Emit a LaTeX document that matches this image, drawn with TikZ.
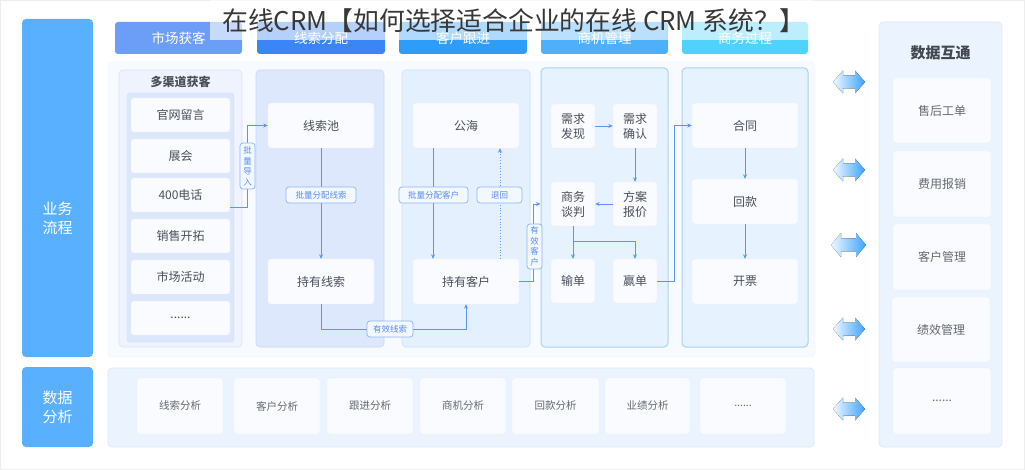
\documentclass[tikz,border=0pt]{standalone}
\usepackage{fontspec}
\setmainfont{Noto Sans CJK SC}
\usetikzlibrary{arrows.meta,calc}
\definecolor{sidebl}{HTML}{58B0FE}
\definecolor{hA}{HTML}{6C9EF8}
\definecolor{hB}{HTML}{3B86F6}
\definecolor{hC}{HTML}{2E9DFA}
\definecolor{hD}{HTML}{4EB0FB}
\definecolor{hE}{HTML}{4FD3FC}
\definecolor{itemfill}{HTML}{F9FBFF}
\definecolor{itemborder}{HTML}{EAF0FB}
\definecolor{txt}{HTML}{4A4F58}
\definecolor{linec}{HTML}{5E93F6}
\definecolor{lblborder}{HTML}{8DB3F7}
\definecolor{lblfill}{HTML}{F3F8FF}
\definecolor{lbltext}{HTML}{5A8DEE}
\definecolor{arrR}{HTML}{3CA3FE}
\definecolor{arrL}{HTML}{F0F8FF}
\definecolor{mainbg}{HTML}{F7FAFE}
\definecolor{mainbd}{HTML}{EEF3FC}
\definecolor{cA}{HTML}{EEF3FE}
\definecolor{cAb}{HTML}{D9E5FC}
\definecolor{inA}{HTML}{DCE7FC}
\definecolor{inAb}{HTML}{CCDCFA}
\definecolor{cB}{HTML}{DDE8FC}
\definecolor{cBb}{HTML}{C7D9F9}
\definecolor{cC}{HTML}{E5F0FE}
\definecolor{cCb}{HTML}{CCE0FB}
\definecolor{cD}{HTML}{E6F2FE}
\definecolor{cDb}{HTML}{A8D1FB}
\definecolor{pan}{HTML}{EBF4FE}
\definecolor{panb}{HTML}{DAE9FC}
\newcommand\bx[7]{\node[#1, minimum width={#5-#3}, minimum height={#6-#4}] (#2) at ({(#3+#5)/2},{(#4+#6)/2}) {#7};}
\newcommand\dar[5]{% x0 x1 cy hh sh
  \fill[left color=arrL, right color=arrR]
    (#1,#3) -- ({#1+10},{#3-#4}) -- ({#1+10},{#3-#5}) -- ({#2-10},{#3-#5}) -- ({#2-10},{#3-#4})
    -- (#2,#3) -- ({#2-10},{#3+#4}) -- ({#2-10},{#3+#5}) -- ({#1+10},{#3+#5}) -- ({#1+10},{#3+#4}) -- cycle;}
\begin{document}
\begin{tikzpicture}[x=1pt,y=-1pt,
  side/.style={fill=sidebl, rounded corners=4pt, text=white, align=center, inner sep=0pt,
    font=\fontsize{15}{19}\selectfont},
  hdr/.style={rounded corners=3pt, text=white, inner sep=0pt, font=\fontsize{13.5}{16}\selectfont},
  panel/.style={rounded corners=4pt, inner sep=0pt},
  item/.style={draw=itemborder, fill=itemfill, rounded corners=3pt, text=txt, align=center,
    inner sep=0pt, font=\fontsize{12}{15}\selectfont},
  small/.style={item, font=\fontsize{10.5}{13}\selectfont, text=txt!85},
  lbl/.style={draw=lblborder, fill=lblfill, rounded corners=3pt, text=lbltext, inner sep=0pt,
    line width=0.7pt, font=\fontsize{8.5}{10}\selectfont, align=center},
  conn/.style={draw=linec, line width=0.8pt, -{Stealth[length=4.5pt,width=4pt]}},
]
\useasboundingbox (0,0) rectangle (1025,470);
\draw[draw=black!7, fill=white] (0.5,0.5) rectangle (1024.5,469.5);

% side labels
\bx{side}{bizflow}{22}{19}{93}{357}{}
\node[text=white, align=center, font=\fontsize{15}{19}\selectfont, inner sep=0pt] (bizflowtxt) at (57.5,218) {业务\\流程};
\bx{side}{dataana}{22}{367}{93}{447}{数据\\分析}

% headers
\bx{hdr, fill=hA}{h1}{115}{22}{242}{54}{市场获客}
\bx{hdr, fill=hB}{h2}{257}{22}{385}{54}{线索分配}
\bx{hdr, fill=hC}{h3}{399}{22}{527}{54}{客户跟进}
\bx{hdr, fill=hD}{h4}{541}{22}{668}{54}{商机管理}
\bx{hdr, fill=hE}{h5}{682}{22}{808}{54}{商务过程}

% main backdrop
\bx{panel, fill=mainbg, draw=mainbd}{mainbg}{108}{62}{815}{357}{}

% column 1
\bx{panel, fill=cA, draw=cAb, line width=0.7pt}{col1}{119}{70}{242}{347}{}
\node[text=txt, font=\bfseries\fontsize{12}{14}\selectfont] (t1) at (180.5,82) {多渠道获客};
\bx{panel, rounded corners=3pt, fill=inA, draw=inAb}{inner1}{127}{93}{234}{342}{}
\bx{item}{gw}{131}{98}{230}{132}{官网留言}
\bx{item}{zh}{131}{139}{230}{173}{展会}
\bx{item}{tel}{131}{178}{230}{212}{400电话}
\bx{item}{xs}{131}{219}{230}{253}{销售开拓}
\bx{item}{sc}{131}{260}{230}{294}{市场活动}
\bx{item}{dots1}{131}{301}{230}{335}{......}

% column 2
\bx{panel, fill=cB, draw=cBb, line width=0.7pt}{col2}{256}{70}{384}{347}{}
\bx{item}{pool}{268}{103}{374}{148}{线索池}
\bx{item}{holdL}{268}{259}{374}{304}{持有线索}

% column 3
\bx{panel, fill=cC, draw=cCb, line width=0.7pt}{col3}{402}{70}{530}{347}{}
\bx{item}{sea}{413}{103}{519}{148}{公海}
\bx{item}{holdC}{413}{259}{519}{304}{持有客户}

% column 4
\bx{panel, fill=cD, draw=cDb, line width=1pt}{col4}{541}{68}{668}{347}{}
\bx{item}{xf}{551}{104}{595}{148}{需求\\发现}
\bx{item}{qr}{613}{104}{657}{148}{需求\\确认}
\bx{item}{sd}{551}{182}{595}{226}{商务\\谈判}
\bx{item}{fa}{613}{182}{657}{226}{方案\\报价}
\bx{item}{lose}{551}{259}{595}{303}{输单}
\bx{item}{win}{613}{259}{657}{303}{赢单}

% column 5
\bx{panel, fill=cD, draw=cDb, line width=1pt}{col5}{682}{68}{808}{347}{}
\bx{item}{contract}{692}{103}{798}{148}{合同}
\bx{item}{pay}{692}{179}{798}{224}{回款}
\bx{item}{invoice}{692}{259}{798}{304}{开票}

% connectors
\draw[conn] ([yshift=-12pt]tel.east) -- ++(17,0) |- (pool.west);
\bx{lbl, font=\fontsize{8.5}{10.5}\selectfont}{lb1}{240}{143}{255}{189}{批\\量\\导\\入}
\draw[conn] (pool) -- (holdL);
\bx{lbl}{lb2}{286}{187}{356}{203}{批量分配线索}
\draw[conn] (holdL.south) -- ++(0,25) -| (holdC.south);
\bx{lbl}{lb3}{367}{321}{413}{337}{有效线索}
\draw[conn] ([xshift=-33pt]sea.south) -- ([xshift=-33pt]holdC.north);
\bx{lbl}{lb4}{399}{187}{468}{203}{批量分配客户}
\draw[conn, dotted, line width=0.9pt] ([xshift=34pt]holdC.north) -- ([xshift=34pt]sea.south);
\bx{lbl}{lb5}{477}{187}{522}{203}{退回}
\draw[conn] (holdC.east) -- ++(14,0) |- (col4.west |- sd.west);
\bx{lbl, font=\fontsize{8.5}{10.5}\selectfont}{lb6}{527}{224}{542}{269}{有\\效\\客\\户}
\draw[conn] (xf) -- (qr);
\draw[conn] (qr) -- (fa);
\draw[conn] (fa) -- (sd);
\draw[conn] (sd) -- (lose);
\draw[conn] (sd.south) -- ++(0,15) -| (win.north);
\draw[conn] (win.east) -- ++(17,0) |- (contract.west);
\draw[conn] (contract) -- (pay);
\draw[conn] (pay) -- (invoice);

% bottom panel
\bx{panel, fill=pan, draw=panb, line width=0.7pt}{bottom}{108}{368}{814}{447}{}
\bx{small}{a1}{137}{378}{223}{434}{线索分析}
\bx{small}{a2}{234}{378}{320}{434}{客户分析}
\bx{small}{a3}{327}{378}{413}{434}{跟进分析}
\bx{small}{a4}{420}{378}{506}{434}{商机分析}
\bx{small}{a5}{512}{378}{599}{434}{回款分析}
\bx{small}{a6}{605}{378}{690}{434}{业绩分析}
\bx{small}{a7}{700}{378}{786}{434}{......}

% right panel
\bx{panel, fill=pan, draw=panb, line width=0.7pt}{right}{879}{22}{1002}{447}{}
\node[text=txt!90!black, font=\bfseries\fontsize{15}{18}\selectfont] (t2) at (940.5,53) {数据互通};
\bx{small, font=\fontsize{12}{14}\selectfont}{r1}{893}{78}{991}{143}{售后工单}
\bx{small, font=\fontsize{12}{14}\selectfont}{r2}{893}{151}{991}{217}{费用报销}
\bx{small, font=\fontsize{12}{14}\selectfont}{r3}{893}{224}{991}{290}{客户管理}
\bx{small, font=\fontsize{12}{14}\selectfont}{r4}{892}{297}{990}{362}{绩效管理}
\bx{small, font=\fontsize{12}{14}\selectfont}{r5}{893}{368}{991}{434}{......}

% double arrows
\dar{833}{865}{82}{11.5}{6.5}
\dar{833}{865}{170}{11.5}{6.5}
\dar{831}{866}{245}{12}{6.5}
\dar{833}{865}{329}{11.5}{6.5}
\dar{833}{865}{409}{11.5}{6.5}

% title overlay
\fill[white, opacity=0.62] (210,0) rectangle (813,40);
\node[text=black!78, font=\fontsize{25.8}{28}\selectfont, inner sep=0pt] (title) at (514,21) {在线CRM【如何选择适合企业的在线 CRM 系统？】};
\end{tikzpicture}
\end{document}
